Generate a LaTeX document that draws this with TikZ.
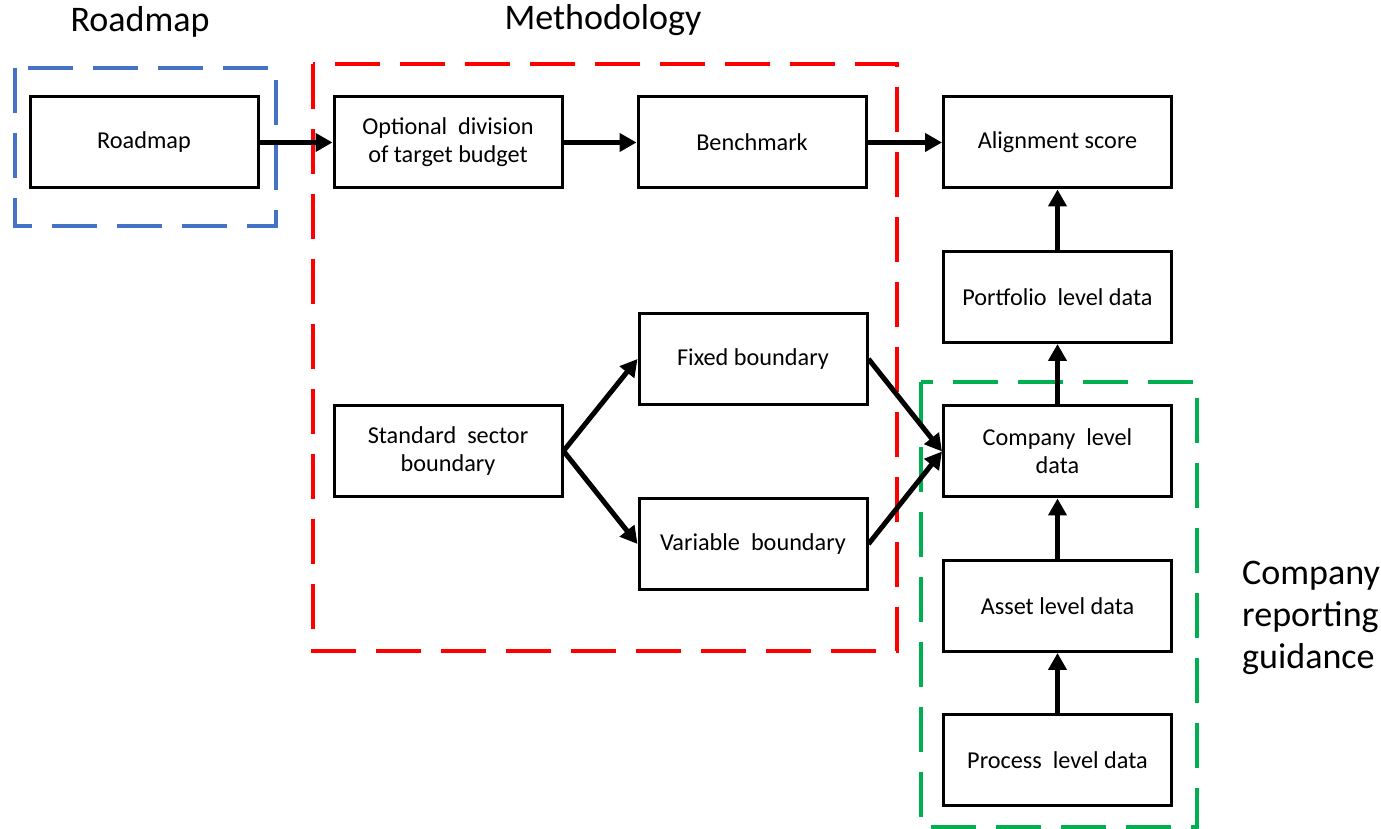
\documentclass[tikz,border=0pt]{standalone}
\usepackage{fontspec}
\setmainfont{Carlito}
\usepackage{xcolor}
\usepackage{tikz}
\usetikzlibrary{arrows.meta, positioning, calc}
\definecolor{rmBlue}{HTML}{4472C4}
\definecolor{mtRed}{HTML}{FF0000}
\definecolor{crGreen}{HTML}{00B050}

\begin{document}
\begin{tikzpicture}[
  box/.style={draw=black, line width=0.06cm, fill=white, rectangle, align=center,
              minimum width=4.56cm, minimum height=1.82cm, inner sep=2pt,
              font=\fontsize{13.8}{16}\selectfont},
  ttl/.style={font=\fontsize{20.5}{23.8}\selectfont},
  flow/.style={line width=0.1cm, -{Triangle[length=0.34cm, width=0.36cm]}},
  frame/.style={line width=0.08cm, dash pattern=on 0.9cm off 0.4cm},
]
\useasboundingbox (0,0) rectangle (27.62,16.58);

% ---------------- Khung (nét đứt) ----------------
\draw[frame, draw=rmBlue]  (0.30,15.22) rectangle (5.52,12.06);
\draw[frame, draw=mtRed]   (6.26,15.30) rectangle (17.94,3.56);
\draw[frame, draw=crGreen] (18.42,8.94) rectangle (23.94,0.04);

% ---------------- Tiêu đề ----------------
\node[ttl] (troad) at (2.80,16.14)  {Roadmap};
\node[ttl] (tmeth) at (12.06,16.18) {Methodology};
\node[ttl, align=left, anchor=west] (tcomp) at (24.72,4.22) {Company\\reporting\\guidance};

% ---------------- Hộp ----------------
\node[box] (road)   at (2.88,13.73)  {Roadmap};
\node[box] (opt)    at (8.96,13.73)  {Optional~ division\\of target budget};
\node[box] (bench)  at (15.04,13.73) {Benchmark};
\node[box] (align)  at (21.15,13.73) {Alignment score};
\node[box] (port)   at (21.15,10.64) {Portfolio~ level data};
\node[box] (fixed)  at (15.06,9.40)  {Fixed boundary};
\node[box] (std)    at (8.96,7.56)   {Standard~ sector\\boundary};
\node[box] (var)    at (15.06,5.70)  {Variable~ boundary};
\node[box] (comp)   at (21.15,7.55)  {Company~ level\\data};
\node[box] (asset)  at (21.15,4.46)  {Asset level data};
\node[box] (proc)   at (21.15,1.37)  {Process~ level data};

% ---------------- Mũi tên ----------------
\draw[flow] (road.east)  -- (opt.west);
\draw[flow] (opt.east)   -- (bench.west);
\draw[flow] (bench.east) -- (align.west);
\draw[flow] (std.east)   -- (fixed.west);
\draw[flow] (std.east)   -- (var.west);
\draw[flow] (fixed.east) -- (comp.west);
\draw[flow] (var.east)   -- (comp.west);
\draw[flow] (proc.north) -- (asset.south);
\draw[flow] (asset.north) -- (comp.south);
\draw[flow] (comp.north) -- (port.south);
\draw[flow] (port.north) -- (align.south);
\end{tikzpicture}
\end{document}
